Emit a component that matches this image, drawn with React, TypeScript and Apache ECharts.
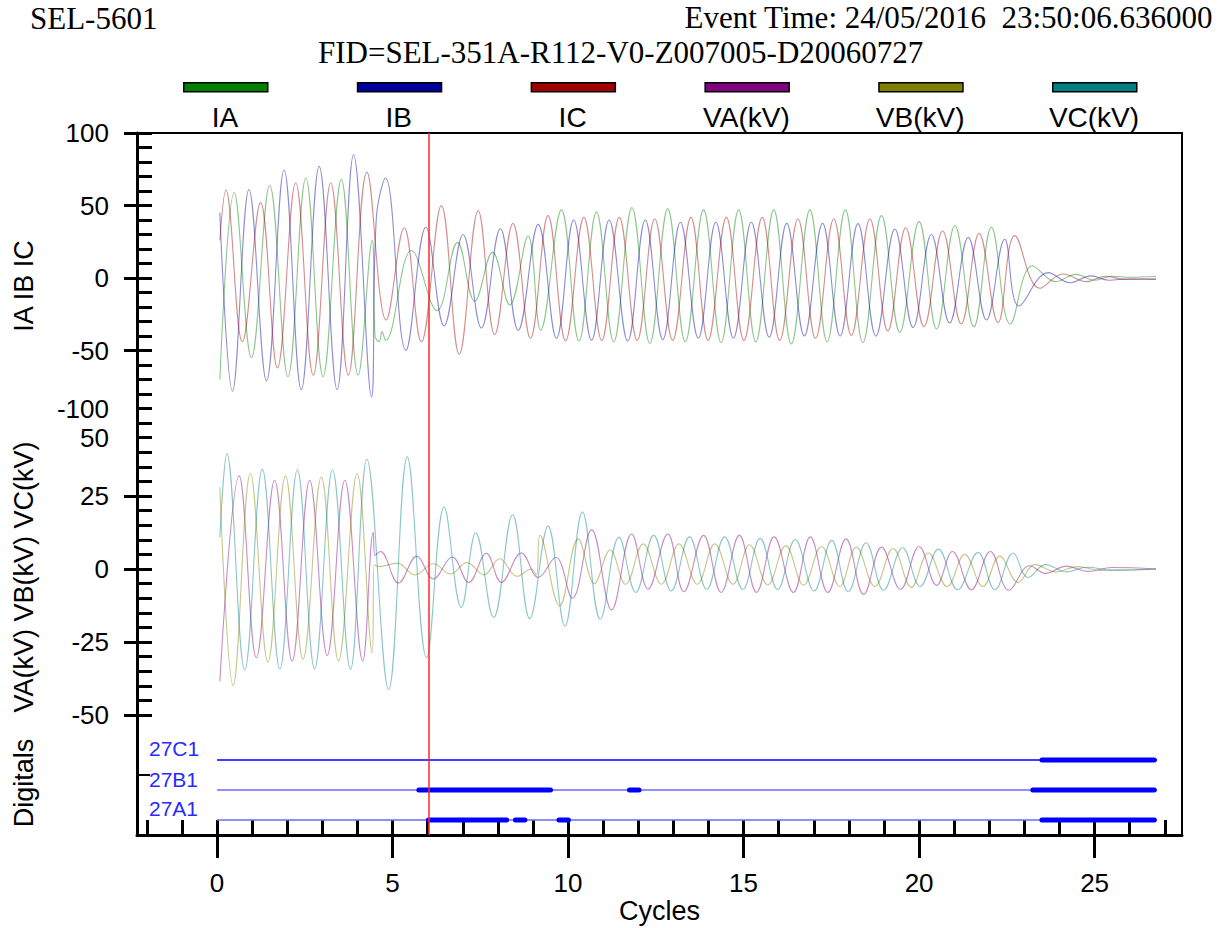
import React, { useEffect, useRef } from 'react';
import * as echarts from 'echarts';

// ---------- data ----------
const xRange = [-2.28, 27.49];
const cursorCycle = 6.02;

const headerLeft = 'SEL-5601';
const headerRight = 'Event Time: 24/05/2016  23:50:06.636000';
const headerFid = 'FID=SEL-351A-R112-V0-Z007005-D20060727';

const channelNames = ['IA', 'IB', 'IC', 'VA(kV)', 'VB(kV)', 'VC(kV)'];
const channelColors = ['#008000', '#0000a0', '#a00000', '#800080', '#808000', '#008080'];

const xLabelTicks = [0, 5, 10, 15, 20, 25];
const xMinorTicks = [-2, -1, 0, 1, 2, 3, 4, 5, 6, 7, 8, 9, 10, 11, 12, 13, 14, 15, 16, 17, 18, 19, 20, 21, 22, 23, 24, 25, 26, 27];

// waveform extrema [cycle, value]
const iaData = [
  [0.08, -70], [0.49, 59], [0.98, -55], [1.5, 64], [2.02, -68], [2.53, 69], [3.02, -68], [3.54, 68], [4.02, -67],
  [4.42, 26], [4.5, -40], [4.62, -44], [4.7, -37], [4.8, -43], [5.54, 19], [6.27, -22.5], [6.85, 24.6], [7.34, -16],
  [7.85, 17.7], [8.34, -18.6], [8.86, 29], [9.22, -36], [9.81, 47], [10.31, -43.4], [10.81, 45.7], [11.3, -44],
  [11.82, 48.5], [12.33, -45], [12.84, 47.7], [13.34, -44], [13.86, 47], [14.36, -44.5], [14.86, 47], [15.35, -44],
  [15.86, 47], [16.36, -45.5], [16.89, 47], [17.38, -44], [17.9, 47], [18.4, -44.5], [18.93, 43], [19.45, -37.5],
  [20.0, 38.9], [20.5, -35.2], [21.02, 36], [21.56, -33.6], [22.06, 35], [22.6, -31.7], [23.23, 8.5], [23.9, -2.5],
  [24.46, 2.5], [25.0, -1.5], [25.5, 1.2], [26.0, 0.5], [26.75, 1]
];
const ibData = [
  [0.08, 45], [0.44, -78], [0.91, 61], [1.41, -71], [1.91, 74.5], [2.4, -77], [2.91, 77], [3.42, -77], [3.89, 85],
  [4.4, -82], [4.54, 42], [4.8, 69], [5.38, -50], [5.95, 35], [6.47, -33], [7.01, 30], [7.53, -34.5], [8.07, 34],
  [8.58, -36], [9.15, 37], [9.67, -41.6], [10.16, 40], [10.67, -43], [11.17, 40], [11.7, -43.4], [12.2, 40],
  [12.7, -42.5], [13.2, 38.4], [13.71, -41.4], [14.21, 38.4], [14.71, -41.4], [15.22, 38.4], [15.73, -40.8],
  [16.23, 37.7], [16.73, -40], [17.25, 37.7], [17.75, -40], [18.26, 37.5], [18.77, -40], [19.31, 33.8], [19.83, -34.2],
  [20.35, 30], [20.87, -31], [21.4, 28], [21.92, -29], [22.44, 26.7], [22.85, -19.3], [23.68, 3.7], [24.3, -3.3],
  [24.9, 1.5], [25.4, -1.5], [26.0, -0.5], [26.75, -1]
];
const icData = [
  [0.08, 26], [0.25, 60.7], [0.72, -44], [1.24, 52], [1.72, -62], [2.24, 65.7], [2.74, -67], [3.24, 65.7], [3.74, -67],
  [4.27, 73], [4.82, -29], [5.33, 34.7], [5.82, -44], [6.39, 50], [6.9, -52.6], [7.44, 46.4], [7.91, -39], [8.43, 37.7],
  [8.93, -41.6], [9.43, 43], [9.93, -43.4], [10.45, 41.8], [10.96, -43], [11.46, 41.8], [11.97, -43], [12.47, 40.7],
  [12.98, -43], [13.5, 41.8], [13.99, -43], [14.51, 41.8], [15.01, -43], [15.53, 41.8], [16.03, -43], [16.55, 40.7],
  [17.05, -41.6], [17.57, 40.7], [18.07, -39.5], [18.6, 40.7], [19.11, -36.5], [19.62, 34.7], [20.14, -33.6],
  [20.67, 32.4], [21.2, -31.7], [21.71, 30.8], [22.25, -30.8], [22.73, 29.2], [23.44, -7.1], [24.1, 2.8], [24.77, -2.5],
  [25.3, 1.2], [25.9, -1], [26.75, -0.5]
];
const vaData = [
  [0.08, -38.4], [0.63, 31.9], [1.12, -30.4], [1.64, 30.4], [2.14, -31.5], [2.64, 30.4], [3.14, -29.6], [3.64, 30.4],
  [4.15, -31.5], [4.45, 12.6], [4.5, 4.6], [4.65, 6], [5.17, -4.8], [5.69, 4.4], [6.16, -3.4], [6.7, 4.1], [7.17, -4.6],
  [7.67, 5.4], [8.1, -4.6], [8.67, 5.5], [9.15, -2.9], [9.65, 4], [10.12, -10], [10.67, 13.5], [11.24, -14], [11.81, 12],
  [12.28, -6.9], [12.84, 12], [13.3, -7.8], [13.86, 11.5], [14.36, -8], [14.88, 11.5], [15.37, -8], [15.87, 11],
  [16.42, -8], [16.9, 11], [17.4, -8], [17.92, 10.3], [18.42, -8.7], [18.93, 7.5], [19.47, -7], [20.0, 7.7], [20.5, -5.6],
  [20.95, 6], [21.49, -7.1], [22.03, 6], [22.56, -7.3], [23.15, 1.1], [23.6, -1.5], [24.2, 1], [24.8, -0.8], [25.5, 0.5],
  [26.75, 0]
];
const vbData = [
  [0.08, 28], [0.46, -39.9], [0.95, 32.7], [1.45, -31.8], [1.95, 31.9], [2.45, -30.9], [2.97, 31.5], [3.46, -31.5],
  [3.99, 32.7], [4.42, -28.7], [4.48, 1.4], [4.62, 0.8], [5.13, 2], [5.64, -2], [6.16, 1.8], [6.65, -1.7], [7.12, 2.2],
  [7.6, -2], [8.05, 3.5], [8.55, -2.5], [8.95, 0], [9.1, -2], [9.2, 11.5], [9.76, -12.6], [10.29, 10.3], [10.75, -5],
  [11.2, 6.5], [11.64, -5.2], [12.14, 8.6], [12.66, -5.2], [13.16, 8.6], [13.68, -5.2], [14.18, 8.6], [14.7, -5.2],
  [15.17, 8.3], [15.69, -5.5], [16.2, 8], [16.71, -5.5], [17.22, 7.7], [17.74, -6], [18.21, 7.5], [18.74, -6], [19.26, 7],
  [19.78, -6.3], [20.26, 5.5], [20.8, -6], [21.3, 5], [21.82, -6], [22.3, 4.4], [22.82, -4.6], [23.3, 1.5], [23.9, -1],
  [24.5, 0.8], [25.2, -0.5], [26.75, 0]
];
const vcData = [
  [0.08, 10.9], [0.28, 39.5], [0.79, -34.6], [1.29, 34.2], [1.79, -34.2], [2.29, 34], [2.78, -34.2], [3.29, 34],
  [3.8, -34.4], [4.27, 37.6], [4.89, -41.3], [5.42, 38.4], [5.97, -30.4], [6.47, 21.2], [6.96, -13.2], [7.37, 12.4],
  [7.88, -16.6], [8.42, 18.6], [8.91, -17], [9.43, 14.7], [9.91, -19.5], [10.41, 19.5], [10.92, -17.2], [11.45, 10.9],
  [11.93, -8], [12.44, 11.5], [12.94, -7.5], [13.46, 11], [13.95, -7], [14.46, 11], [14.98, -7], [15.47, 10.5],
  [15.97, -7], [16.47, 10.1], [17.01, -7.5], [17.51, 9.8], [17.98, -7.8], [18.49, 9], [18.99, -7.3], [19.53, 7.3],
  [20.03, -6], [20.55, 6.8], [21.1, -7.1], [21.68, 5.7], [22.16, -7.1], [22.68, 5.5], [23.1, -2.9], [23.6, 1.5],
  [24.2, -1], [24.8, 0.6], [25.5, -0.4], [26.75, 0]
];

// digitals
const digitalNames = ['27C1', '27B1', '27A1'];
const digitalLevels = [2.5, 1.5, 0.5];
const digitalSpan = [0, 26.78];
const d27C1On = [[23.5, 26.7]];
const d27B1On = [[5.75, 9.5], [11.75, 12.02], [23.24, 26.7]];
const d27A1On = [[6.02, 8.25], [8.5, 8.77], [9.74, 10.01], [23.5, 26.7]];
const digitalOn = [d27C1On, d27B1On, d27A1On];

// ---------- styles ----------
const SANS = "'Liberation Sans', Arial, Helvetica, sans-serif";
const SERIF = "'Liberation Serif', 'Times New Roman', serif";
const INK = '#000';

const App: React.FC = () => {
  const ref = useRef<HTMLDivElement>(null);

  useEffect(() => {
    if (!ref.current) return;
    const chart = echarts.init(ref.current, undefined, { renderer: 'svg' });

    const grids = [
      { left: 137, right: 45, top: 133, height: 290 },
      { left: 137, right: 45, top: 423, height: 292 },
      { left: 137, right: 45, top: 715, height: 120 },
    ];

    const tickLine = { color: INK, width: 3 };
    const hiddenX = (g: number) => ({
      type: 'value', gridIndex: g, min: xRange[0], max: xRange[1], show: false,
    });

    const xAxis: any[] = [
      hiddenX(0),
      hiddenX(1),
      {
        type: 'value', gridIndex: 2, min: xRange[0], max: xRange[1], position: 'bottom',
        axisLine: { show: true, onZero: false, lineStyle: { color: INK, width: 3 } },
        axisTick: { show: true, customValues: xLabelTicks, length: 23, lineStyle: tickLine },
        axisLabel: { show: true, customValues: xLabelTicks, margin: 35, fontSize: 26, color: INK, fontFamily: SANS },
        splitLine: { show: false },
        name: 'Cycles', nameLocation: 'middle', nameGap: 62,
        nameTextStyle: { fontSize: 27, color: INK, fontFamily: SANS },
      },
      {
        type: 'value', gridIndex: 2, min: xRange[0], max: xRange[1], position: 'bottom',
        axisLine: { show: false, onZero: false },
        axisTick: { show: true, inside: true, customValues: xMinorTicks, length: 15, lineStyle: tickLine },
        axisLabel: { show: false },
        splitLine: { show: false },
      },
      {
        type: 'value', gridIndex: 0, min: xRange[0], max: xRange[1], position: 'top',
        axisLine: { show: true, onZero: false, lineStyle: { color: INK, width: 2 } },
        axisTick: { show: false }, axisLabel: { show: false }, splitLine: { show: false },
      },
    ];

    const nameStyle = { fontSize: 27, color: INK, fontFamily: SANS, padding: [0, 16, 0, 0] };
    const labelStyle = { fontSize: 26, color: INK, fontFamily: SANS, margin: 28 };

    const rightBorder = (g: number, min: number, max: number) => ({
      type: 'value', gridIndex: g, min, max, position: 'right',
      axisLine: { show: true, onZero: false, lineStyle: { color: INK, width: 2 } },
      axisTick: { show: false }, axisLabel: { show: false }, splitLine: { show: false },
    });

    const yAxis: any[] = [
      {
        type: 'value', gridIndex: 0, min: -100, max: 100, interval: 50, position: 'left',
        axisLine: { show: true, onZero: false, lineStyle: { color: INK, width: 3 } },
        axisTick: { show: true, length: 13, lineStyle: tickLine },
        axisLabel: { ...labelStyle, showMinLabel: false },
        splitLine: { show: false },
        name: 'IA IB IC', nameLocation: 'middle', nameGap: 100, nameTextStyle: nameStyle,
      },
      {
        type: 'value', gridIndex: 0, min: -100, max: 100, interval: 10, position: 'left',
        axisLine: { show: false, onZero: false },
        axisTick: { show: true, inside: true, length: 15, lineStyle: tickLine },
        axisLabel: { show: false }, splitLine: { show: false },
      },
      {
        type: 'value', gridIndex: 1, min: -50, max: 50, interval: 25, position: 'left',
        axisLine: { show: true, onZero: false, lineStyle: { color: INK, width: 3 } },
        axisTick: { show: true, length: 13, lineStyle: tickLine },
        axisLabel: { ...labelStyle, showMaxLabel: false },
        splitLine: { show: false },
        name: 'VA(kV) VB(kV) VC(kV)', nameLocation: 'middle', nameGap: 100, nameTextStyle: nameStyle,
      },
      {
        type: 'value', gridIndex: 1, min: -50, max: 50, interval: 5, position: 'left',
        axisLine: { show: false, onZero: false },
        axisTick: { show: true, inside: true, length: 15, lineStyle: tickLine },
        axisLabel: { show: false }, splitLine: { show: false },
      },
      {
        type: 'value', gridIndex: 2, min: 0, max: 4, interval: 2, position: 'left',
        axisLine: { show: true, onZero: false, lineStyle: { color: INK, width: 3 } },
        axisTick: { show: true, inside: true, length: 13, lineStyle: { color: INK, width: 2 } },
        axisLabel: { show: false }, splitLine: { show: false },
        name: 'Digitals', nameLocation: 'middle', nameGap: 100, nameTextStyle: nameStyle,
      },
      rightBorder(0, -100, 100),
      rightBorder(1, -50, 50),
      rightBorder(2, 0, 4),
    ];

    const cursor = {
      silent: true,
      symbol: ['none', 'none'],
      label: { show: false },
      lineStyle: { color: '#ff2a2a', width: 1.5, type: 'solid' },
      data: [{ xAxis: cursorCycle }],
    };

    const wave = (idx: number, data: number[][], xi: number, yi: number, withCursor: boolean) => ({
      type: 'line',
      name: channelNames[idx],
      xAxisIndex: xi,
      yAxisIndex: yi,
      data,
      smooth: 0.4,
      showSymbol: false,
      symbol: 'none',
      lineStyle: { color: channelColors[idx], width: 1.1, opacity: 0.45 },
      itemStyle: { color: channelColors[idx] },
      z: 3,
      ...(withCursor ? { markLine: cursor } : {}),
    });

    const series: any[] = [
      wave(0, iaData, 0, 0, true),
      wave(1, ibData, 0, 0, false),
      wave(2, icData, 0, 0, false),
      wave(3, vaData, 1, 2, true),
      wave(4, vbData, 1, 2, false),
      wave(5, vcData, 1, 2, false),
    ];

    digitalNames.forEach((nm, i) => {
      const lvl = digitalLevels[i];
      series.push({
        type: 'line', name: nm + ' base', xAxisIndex: 2, yAxisIndex: 4,
        data: [[digitalSpan[0], lvl], [digitalSpan[1], lvl]],
        symbol: 'none',
        lineStyle: { color: i === 0 ? '#0000ff' : '#6a6aff', width: 1.3 },
        z: 2,
        ...(i === 0 ? { markLine: cursor } : {}),
      });
      const on: any[] = [];
      digitalOn[i].forEach(([a, b], k) => {
        if (k > 0) on.push('-');
        on.push([a, lvl], [b, lvl]);
      });
      series.push({
        type: 'line', name: nm, xAxisIndex: 2, yAxisIndex: 4,
        data: on,
        symbol: 'none',
        connectNulls: false,
        lineStyle: { color: '#0000ff', width: 5, cap: 'round' },
        z: 3,
      });
    });

    const graphic: any[] = [];
    channelNames.forEach((nm, i) => {
      const cx = 225 + i * 173.8;
      graphic.push({
        type: 'rect', left: cx - 42, top: 82,
        shape: { width: 84, height: 9 },
        style: { fill: channelColors[i], stroke: '#000', lineWidth: 1.5 },
      });
      graphic.push({
        type: 'text', x: cx, y: 117,
        style: { text: nm, fill: INK, fontSize: 28, fontFamily: SANS, align: 'center', verticalAlign: 'middle' },
      });
    });
    graphic.push({
      type: 'text', x: 109, y: 409,
      style: { text: '-100', fill: INK, fontSize: 26, fontFamily: SANS, align: 'right', verticalAlign: 'middle' },
    });
    graphic.push({
      type: 'text', x: 109, y: 438,
      style: { text: '50', fill: INK, fontSize: 26, fontFamily: SANS, align: 'right', verticalAlign: 'middle' },
    });
    const digitalLabelY = [748, 779, 808];
    digitalNames.forEach((nm, i) => {
      graphic.push({
        type: 'text', x: 149, y: digitalLabelY[i],
        style: { text: nm, fill: '#2a2aff', fontSize: 21, fontFamily: SANS, align: 'left', verticalAlign: 'middle' },
      });
    });

    const headStyle = { fontFamily: SERIF, fontSize: 31, lineHeight: 26, fontWeight: 'normal', color: INK };
    chart.setOption({
      animation: false,
      backgroundColor: '#fff',
      title: [
        { text: headerLeft, left: 30, top: 5, padding: 0, textStyle: headStyle },
        { text: headerRight, right: 14, top: 4, padding: 0, textStyle: headStyle },
        { text: headerFid, left: 318, top: 39, padding: 0, textStyle: headStyle },
      ],
      grid: grids,
      xAxis,
      yAxis,
      series,
      graphic,
    });

    return () => chart.dispose();
  }, []);

  return (
    <div
      ref={ref}
      style={{ position: 'fixed', left: 0, top: 0, width: 1227, height: 928, background: '#fff' }}
    />
  );
};

export default App;
